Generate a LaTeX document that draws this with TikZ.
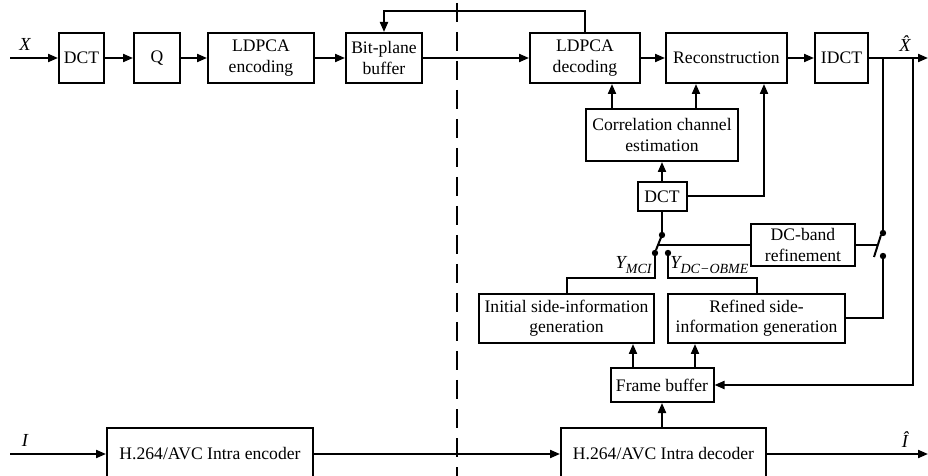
\documentclass[tikz,border=0pt]{standalone}
\usepackage{fontspec}
\setmainfont{Liberation Serif}
\usetikzlibrary{arrows.meta, positioning}
\newcommand{\sigsub}[1]{\raisebox{-0.5ex}{\fontsize{7}{8}\selectfont #1}}
\tikzset{block/.style={rectangle,draw,line width=1pt,align=center,inner sep=0pt,font=\fontsize{8.8}{10.2}\selectfont},
         arrow/.style={-{Triangle[length=5pt,width=4pt]},line width=1pt},
         wire/.style={line width=1pt},
         dot/.style={circle,fill,inner sep=0pt,minimum size=3.2pt},
         sig/.style={font=\fontsize{9.2}{10.2}\selectfont\itshape,inner sep=0pt},
         divider/.style={line width=0.6pt,dash pattern=on 9.5pt off 5pt}}

\begin{document}
\begin{tikzpicture}[x=0.5pt,y=-0.5pt]
    \useasboundingbox (0,0) rectangle (928,476);
    % Encoder side
    \node (dct) [block, minimum width=22.5pt, minimum height=25pt] at (81.5,58) {DCT};
    \node (q) [block, minimum width=23pt, minimum height=25pt, right=14pt of dct] {Q};
    \node (enc) [block, minimum width=53pt, minimum height=25pt, right=13pt of q] {LDPCA\\encoding};
    \node (bpbuf) [block, minimum width=38pt, minimum height=25pt, right=15pt of enc] {Bit-plane\\buffer};
    % Decoder side
    \node (dec) [block, minimum width=55pt, minimum height=25pt] at (585,58) {LDPCA\\decoding};
    \node (recon) [block, minimum width=60.5pt, minimum height=25pt, right=12pt of dec] {Reconstruction};
    \node (idct) [block, minimum width=26.5pt, minimum height=25pt, right=13pt of recon] {IDCT};
    \node (cce) [block, minimum width=76pt, minimum height=26pt] at (662,135) {Correlation channel\\estimation};
    \node (dct2) [block, minimum width=24.5pt, minimum height=14.5pt] at (662,196.5) {DCT};
    \node (dcref) [block, minimum width=52pt, minimum height=21pt] at (803,245) {DC-band\\refinement};
    \node (isi) [block, minimum width=87.5pt, minimum height=24.5pt] at (566.5,318.5) {Initial side-information\\generation};
    \node (rsi) [block, minimum width=88.5pt, minimum height=24.5pt] at (756.5,318.5) {Refined side-\\information generation};
    \node (fbuf) [block, minimum width=51.5pt, minimum height=17pt] at (662,385) {Frame buffer};
    % Intra coding of key frames
    \node (henc) [block, minimum width=103pt, minimum height=26pt] at (210,454) {H.264/AVC Intra encoder};
    \node (hdec) [block, minimum width=102.5pt, minimum height=26pt] at (663.5,454) {H.264/AVC Intra decoder};
    % Free ends and junctions
    \coordinate (xin) at (10,58);
    \coordinate (xout) at (928,58);
    \coordinate (iin) at (10,454);
    \coordinate (iout) at (928,454);
    \coordinate (fb) at (585,11);
    \coordinate (c1) at (612,0);
    \coordinate (c2) at (696,0);
    \coordinate (c3) at (764,0);
    \coordinate (c4) at (633,0);
    \coordinate (c5) at (695,0);
    \coordinate (s1top) at (662,235);
    \coordinate (s1a) at (655,253);
    \coordinate (s1b) at (668,253);
    \coordinate (s1end) at (656,250);
    \coordinate (j1) at (655,278);
    \coordinate (j2) at (668,278);
    \coordinate (s2top) at (883,233);
    \coordinate (s2bot) at (883,256);
    \coordinate (s2end) at (874,257);
    \coordinate (s2tip) at (881,235);
    \coordinate (fbr) at (913,58);
    % Labels
    \node (xlab) [sig] at (25,44) {X};
    \node (xhat) [sig] at (905,44) {\^{X}};
    \node (ilab) [sig] at (25,440) {I};
    \node (ihat) [sig] at (905,440) {\^{I}};
    \node (ymci) [sig, anchor=east] at (652,265) {Y\sigsub{MCI}};
    \node (ydc) [sig, anchor=west] at (670,265) {Y\sigsub{DC−OBME}};
    % Divider
    \draw[divider] (457,3) -- (457,476);
    % Main path
    \draw[arrow] (xin) -- (dct.west);
    \draw[arrow] (dct.east) -- (q.west);
    \draw[arrow] (q.east) -- (enc.west);
    \draw[arrow] (enc.east) -- (bpbuf.west);
    \draw[arrow] (bpbuf.east) -- (dec.west);
    \draw[arrow] (dec.east) -- (recon.west);
    \draw[arrow] (recon.east) -- (idct.west);
    \draw[arrow] (idct.east) -- (xout);
    \draw[arrow] (dec.north) -- (fb) -| (bpbuf.north);
    % Side information
    \draw[arrow] (c1 |- cce.north) -- (c1 |- dec.south);
    \draw[arrow] (c2 |- cce.north) -- (c2 |- recon.south);
    \draw[arrow] (dct2.north) -- (cce.south);
    \draw[arrow] (dct2.east) -| (c3 |- recon.south);
    \draw[wire] (dct2.south) -- (s1top);
    \draw[wire] (s1top) -- (s1end);
    \draw[wire] (dcref.west) -- (658,245);
    \draw[wire] (s1a) -- (j1) -| (isi.north);
    \draw[wire] (s1b) -- (j2) -| (rsi.north);
    \draw[wire] (s2top |- idct.east) -- (s2top);
    \draw[wire] (s2end) -- (s2tip);
    \draw[wire] (dcref.east) -- (878,245);
    \draw[wire] (s2bot) |- (rsi.east);
    \draw[arrow] (fbr) |- (fbuf.east);
    \draw[arrow] (c4 |- fbuf.north) -- (c4 |- isi.south);
    \draw[arrow] (c5 |- fbuf.north) -- (c5 |- rsi.south);
    \draw[arrow] (fbuf.south |- hdec.north) -- (fbuf.south);
    \foreach \p in {s1top,s1a,s1b,s2top,s2bot}
      \node[dot] at (\p) {};
    % Key frames
    \draw[arrow] (iin) -- (henc.west);
    \draw[arrow] (henc.east) -- (hdec.west);
    \draw[arrow] (hdec.east) -- (iout);
\end{tikzpicture}
\end{document}
